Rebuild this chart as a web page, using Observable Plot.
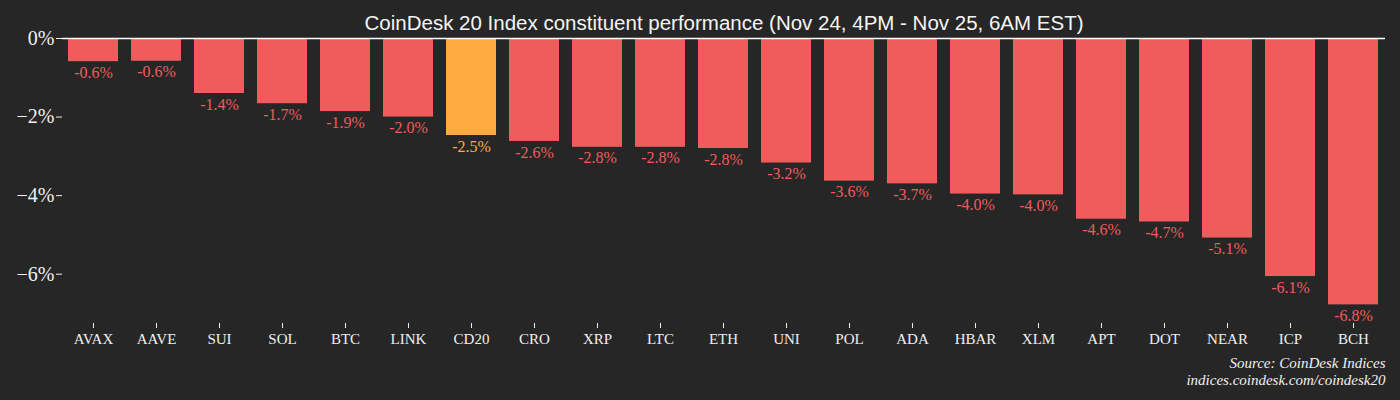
<!DOCTYPE html>
<html>
<head>
<meta charset="utf-8">
<script src="https://cdn.jsdelivr.net/npm/d3@7"></script>
<script src="https://cdn.jsdelivr.net/npm/@observablehq/plot@0.6"></script>
<style>
  html, body { margin: 0; padding: 0; background: #262626; }
  #chart { width: 1400px; height: 400px; }
</style>
</head>
<body>
<div id="chart"></div>
<script>
const symbols = ["AVAX","AAVE","SUI","SOL","BTC","LINK","CD20","CRO","XRP","LTC","ETH","UNI","POL","ADA","HBAR","XLM","APT","DOT","NEAR","ICP","BCH"];
const changes = [-0.59,-0.58,-1.40,-1.66,-1.86,-2.00,-2.47,-2.62,-2.77,-2.77,-2.80,-3.17,-3.63,-3.70,-3.96,-3.98,-4.60,-4.67,-5.08,-6.06,-6.78];
const highlight = "CD20";
const yTicks = [0,-2,-4,-6];
const titleText = "CoinDesk 20 Index constituent performance (Nov 24, 4PM - Nov 25, 6AM EST)";
const sourceLines = ["Source: CoinDesk Indices", "indices.coindesk.com/coindesk20"];

const RED = "#f05c5c", ORANGE = "#ffaa40";
const data = symbols.map((s, i) => ({symbol: s, value: changes[i]}));
const colorOf = d => d.symbol === highlight ? ORANGE : RED;

const W = 1400, H = 400, mL = 62, mR = 15, mT = 38, mB = 77;
const SERIF = "'Liberation Serif', serif";

const chart = Plot.plot({
  width: W, height: H,
  marginLeft: mL, marginRight: mR, marginTop: mT, marginBottom: mB,
  style: {background: "#262626", color: "#f0f0f0", fontFamily: SERIF},
  x: {domain: symbols, paddingInner: 0.2, paddingOuter: 0.1, label: null},
  y: {domain: [d3.min(changes) * 1.07, 0], label: null},
  marks: [
    Plot.barY(data, {x: "symbol", y: "value", fill: colorOf}),
    Plot.text(data, {x: "symbol", y: "value", text: d => d.value.toFixed(1) + "%", fill: colorOf, dy: 11, fontSize: 16, fontFamily: SERIF}),
    Plot.ruleY([0], {stroke: "#ffffff", strokeWidth: 1.5}),
    Plot.axisY({ticks: yTicks, tickSize: 6, tickPadding: 2, fontSize: 20, stroke: "#f0f0f0", fill: "#f0f0f0",
      tickFormat: d => (d < 0 ? "\u2212" : "") + Math.abs(d) + "%"}),
    Plot.axisX({tickSize: 5, tickPadding: 5, fontSize: 15, fill: "#f0f0f0", stroke: "#f0f0f0"}),
    Plot.text([titleText], {frameAnchor: "top", dy: -23, fontSize: 20.5, fill: "#f5f5f5", fontFamily: "'Liberation Sans', Arial, sans-serif", text: d => d}),
    Plot.text([sourceLines[0]], {frameAnchor: "bottom-right", dy: 44, fontSize: 15, fontStyle: "italic", fill: "#f0f0f0", textAnchor: "end", text: d => d}),
    Plot.text([sourceLines[1]], {frameAnchor: "bottom-right", dy: 61, fontSize: 15, fontStyle: "italic", fill: "#f0f0f0", textAnchor: "end", text: d => d})
  ]
});
document.getElementById("chart").appendChild(chart);
</script>
</body>
</html>
